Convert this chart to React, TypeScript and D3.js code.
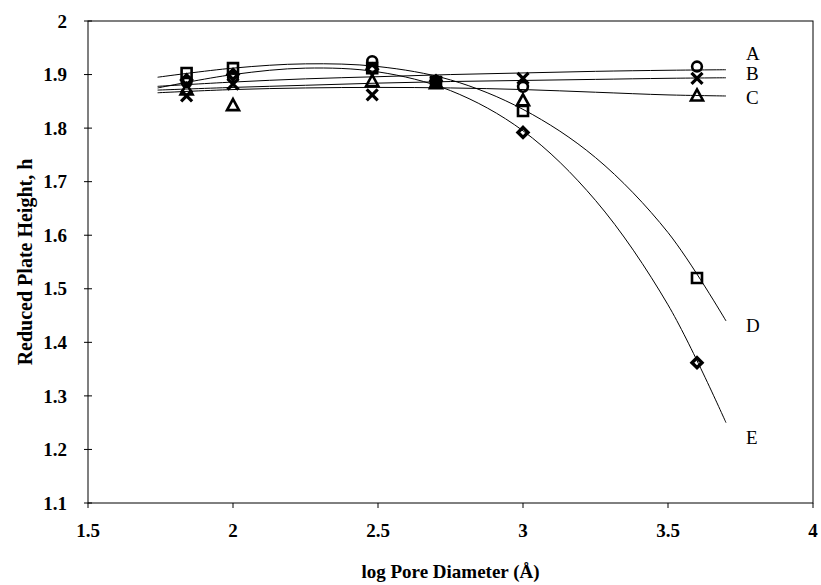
import React, { useEffect, useRef } from "react";
import * as d3 from "d3";

// measured points: log pore diameter vs reduced plate height
const poreLogs = [1.84, 2.0, 2.48, 2.7, 3.0, 3.6];
const seriesA = [1.886, 1.895, 1.925, 1.888, 1.877, 1.915];
const seriesB = [1.86, 1.882, 1.862, 1.886, 1.893, 1.893];
const seriesC = [1.872, 1.843, 1.888, 1.884, 1.852, 1.861];
const seriesD = [1.903, 1.912, 1.912, 1.886, 1.832, 1.52];
const seriesE = [1.89, 1.9, 1.91, 1.888, 1.792, 1.362];

// trendlines
const trendLogs = [1.74, 2.0, 2.25, 2.5, 2.75, 3.0, 3.25, 3.5, 3.7];
const trendA = [1.878, 1.886, 1.892, 1.896, 1.9, 1.903, 1.906, 1.908, 1.909];
const trendB = [1.871, 1.876, 1.88, 1.884, 1.887, 1.889, 1.891, 1.893, 1.894];
const trendC = [1.866, 1.872, 1.875, 1.876, 1.875, 1.872, 1.867, 1.862, 1.86];
const trendD = [1.895, 1.912, 1.92, 1.915, 1.89, 1.835, 1.745, 1.605, 1.44];
const trendE = [1.875, 1.9, 1.912, 1.905, 1.87, 1.795, 1.665, 1.47, 1.25];

const seriesNames = ["A", "B", "C", "D", "E"];
const xTicks = [1.5, 2, 2.5, 3, 3.5, 4];
const yTicks = [1.1, 1.2, 1.3, 1.4, 1.5, 1.6, 1.7, 1.8, 1.9, 2];

const FONT = "'Liberation Serif', 'Times New Roman', serif";

function App() {
  const ref = useRef<SVGSVGElement>(null);

  useEffect(() => {
    document.body.style.margin = "0";
    const svg = d3.select(ref.current);
    svg.selectAll("*").remove();

    const x = d3.scaleLinear().domain([1.5, 4]).range([88, 813]);
    const y = d3.scaleLinear().domain([1.1, 2]).range([503, 21]);

    // frame
    svg
      .append("rect")
      .attr("x", x(1.5))
      .attr("y", y(2))
      .attr("width", x(4) - x(1.5))
      .attr("height", y(1.1) - y(2))
      .attr("fill", "none")
      .attr("stroke", "#000")
      .attr("stroke-width", 1);

    // x ticks
    const xg = svg.append("g");
    xg.selectAll("line")
      .data(xTicks)
      .enter()
      .append("line")
      .attr("x1", d => x(d))
      .attr("x2", d => x(d))
      .attr("y1", y(1.1))
      .attr("y2", y(1.1) + 5)
      .attr("stroke", "#000");
    xg.selectAll("text")
      .data(xTicks)
      .enter()
      .append("text")
      .attr("x", d => x(d))
      .attr("y", 537)
      .attr("text-anchor", "middle")
      .style("font-family", FONT)
      .style("font-size", "19px")
      .style("font-weight", "bold")
      .text(d => String(d));

    // y ticks
    const yg = svg.append("g");
    yg.selectAll("line")
      .data(yTicks)
      .enter()
      .append("line")
      .attr("x1", x(1.5) - 4)
      .attr("x2", x(1.5) + 4)
      .attr("y1", d => y(d))
      .attr("y2", d => y(d))
      .attr("stroke", "#000");
    yg.selectAll("text")
      .data(yTicks)
      .enter()
      .append("text")
      .attr("x", 67)
      .attr("y", d => y(d))
      .attr("dy", "0.35em")
      .attr("text-anchor", "end")
      .style("font-family", FONT)
      .style("font-size", "19px")
      .style("font-weight", "bold")
      .text(d => (d === 2 ? "2" : d.toFixed(1)));

    // axis titles
    svg
      .append("text")
      .attr("x", (x(1.5) + x(4)) / 2)
      .attr("y", 578)
      .attr("text-anchor", "middle")
      .style("font-family", FONT)
      .style("font-size", "19px")
      .style("font-weight", "bold")
      .text("log Pore Diameter (Å)");
    svg
      .append("text")
      .attr("transform", `translate(32, ${(y(1.1) + y(2)) / 2}) rotate(-90)`)
      .attr("text-anchor", "middle")
      .style("font-family", FONT)
      .style("font-size", "20px")
      .style("font-weight", "bold")
      .text("Reduced Plate Height, h");

    // trendlines
    const trends = [trendA, trendB, trendC, trendD, trendE];
    const line = d3
      .line<number>()
      .x((_, i) => x(trendLogs[i]))
      .y(d => y(d))
      .curve(d3.curveCatmullRom);
    svg
      .append("g")
      .selectAll("path")
      .data(trends)
      .enter()
      .append("path")
      .attr("d", d => line(d))
      .attr("fill", "none")
      .attr("stroke", "#000")
      .attr("stroke-width", 1);

    // markers
    const sets = [seriesA, seriesB, seriesC, seriesD, seriesE];
    const shapes = ["circle", "cross", "triangle", "square", "diamond"];
    const markerPath: Record<string, string> = {
      circle: d3.symbol(d3.symbolCircle, 75)()!,
      square: "M-5,-5H5V5H-5Z",
      triangle: "M0,-6L6,5H-6Z",
      diamond: "M0,-5L5,0L0,5L-5,0Z",
      cross: "M-5.5,-5.5L5.5,5.5M5.5,-5.5L-5.5,5.5",
    };
    const strokeFor: Record<string, number> = {
      circle: 2.6,
      square: 2.6,
      triangle: 2.6,
      diamond: 3.4,
      cross: 3.2,
    };
    const mg = svg.append("g");
    sets.forEach((vals, si) => {
      mg.append("g")
        .selectAll("path")
        .data(vals)
        .enter()
        .append("path")
        .attr("transform", (d, i) => `translate(${x(poreLogs[i])},${y(d)})`)
        .attr("d", markerPath[shapes[si]])
        .attr("fill", "none")
        .attr("stroke", "#000")
        .attr("stroke-linejoin", "miter")
        .attr("stroke-width", strokeFor[shapes[si]]);
    });

    // series labels at the right
    const labelLevels = [1.94, 1.903, 1.858, 1.432, 1.223];
    svg
      .append("g")
      .selectAll("text")
      .data(seriesNames)
      .enter()
      .append("text")
      .attr("x", 746)
      .attr("y", (_, i) => y(labelLevels[i]))
      .attr("dy", "0.35em")
      .style("font-family", FONT)
      .style("font-size", "19px")
      .text(d => d);
  });

  return <svg ref={ref} width={821} height={585} style={{ display: "block", background: "#fff" }} />;
}

export default App;
